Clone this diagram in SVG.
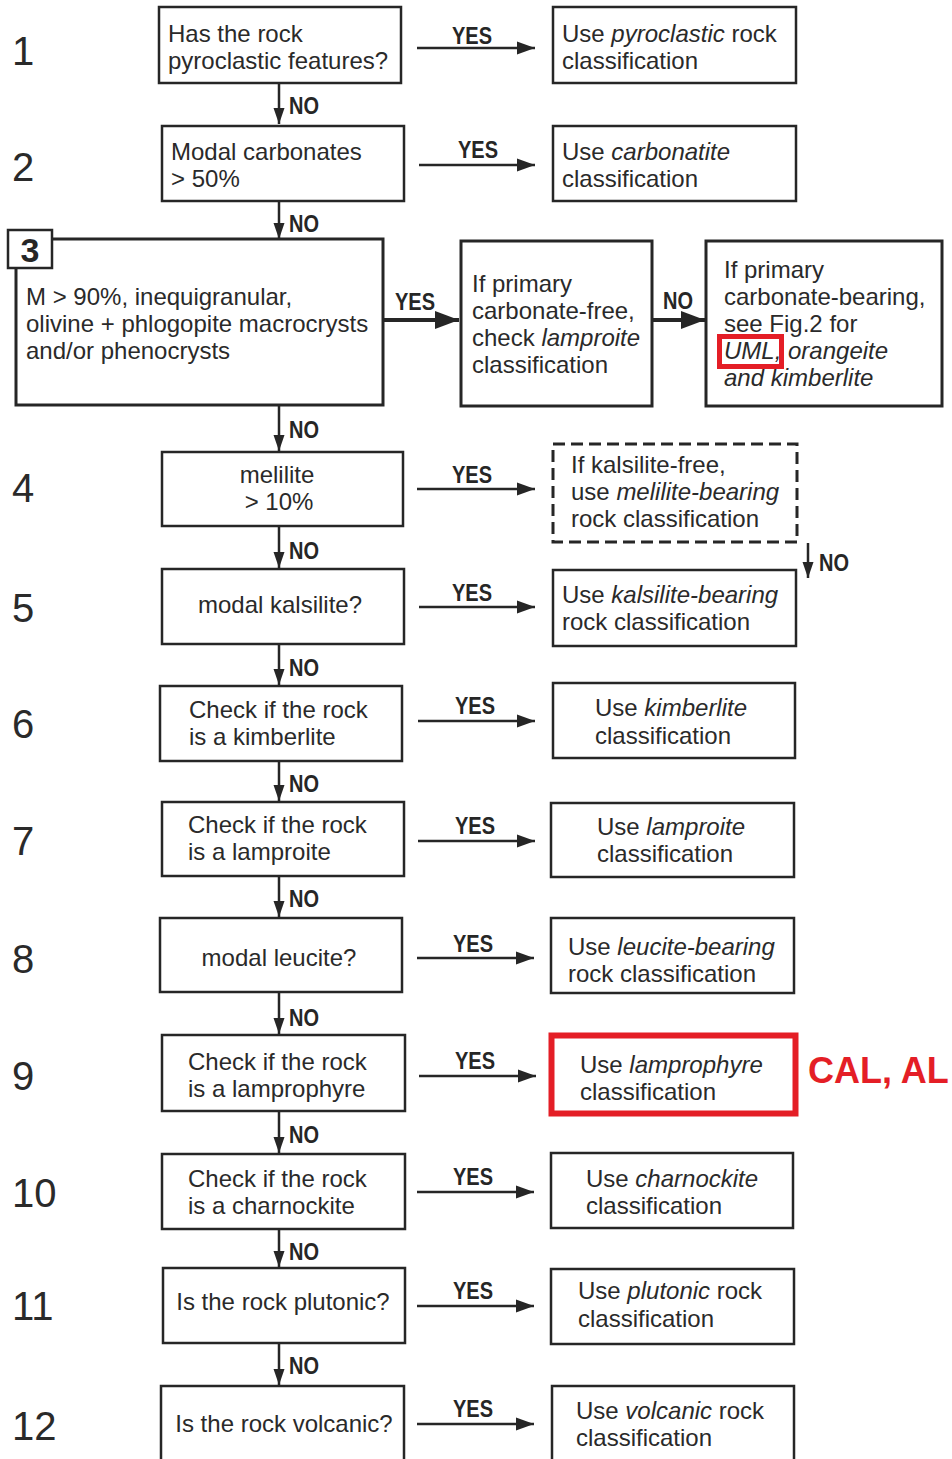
<svg xmlns="http://www.w3.org/2000/svg" width="952" height="1459" viewBox="0 0 952 1459">
<style>
.bx{fill:#fff;stroke:#262626;stroke-width:2.5}
.bx3{fill:#fff;stroke:#262626;stroke-width:3}
.dash{fill:#fff;stroke:#262626;stroke-width:3;stroke-dasharray:12 6}
.red{fill:none;stroke:#e41e26;stroke-width:6}
.t{font-family:"Liberation Sans",Arial,sans-serif;font-size:24px;fill:#2a2a2a}
.c{text-anchor:middle}
.i{font-style:italic}
.num{font-family:"Liberation Sans",Arial,sans-serif;font-size:40px;fill:#2a2a2a}
.lab{font-family:"Liberation Sans",Arial,sans-serif;font-size:23px;font-weight:bold;fill:#262626}
.ln{stroke:#262626;stroke-width:2.5;fill:none}
.lnb{stroke:#262626;stroke-width:4;fill:none}
</style>
<defs>
<marker id="ah" markerUnits="userSpaceOnUse" markerWidth="18" markerHeight="14" refX="18" refY="7" orient="auto"><path d="M0,0.5 L18,7 L0,13.5 Z" fill="#262626"/></marker>
<marker id="av" markerUnits="userSpaceOnUse" markerWidth="16" markerHeight="12" refX="16" refY="6" orient="auto"><path d="M0,0.5 L16,6 L0,11.5 Z" fill="#262626"/></marker>
<marker id="ab" markerUnits="userSpaceOnUse" markerWidth="24" markerHeight="20" refX="24" refY="10" orient="auto"><path d="M0,1 L24,10 L0,19 Z" fill="#262626"/></marker>
</defs>

<g id="numbers">
<text class="num" x="12" y="65">1</text>
<text class="num" x="12" y="181">2</text>
<text class="num" x="12" y="502">4</text>
<text class="num" x="12" y="622">5</text>
<text class="num" x="12" y="738">6</text>
<text class="num" x="12" y="855">7</text>
<text class="num" x="12" y="973">8</text>
<text class="num" x="12" y="1090">9</text>
<text class="num" x="12" y="1207">10</text>
<text class="num" x="12" y="1320">11</text>
<text class="num" x="12" y="1440">12</text>
</g>

<g id="connectors">
<line class="ln" x1="417" y1="48" x2="535" y2="48" marker-end="url(#ah)"/>
<line class="ln" x1="419" y1="165" x2="535" y2="165" marker-end="url(#ah)"/>
<line class="lnb" x1="383" y1="320" x2="459" y2="320" marker-end="url(#ab)"/>
<line class="lnb" x1="653" y1="320" x2="705" y2="320" marker-end="url(#ab)"/>
<line class="ln" x1="417" y1="489" x2="535" y2="489" marker-end="url(#ah)"/>
<line class="ln" x1="419" y1="607" x2="535" y2="607" marker-end="url(#ah)"/>
<line class="ln" x1="418" y1="721" x2="535" y2="721" marker-end="url(#ah)"/>
<line class="ln" x1="418" y1="841" x2="535" y2="841" marker-end="url(#ah)"/>
<line class="ln" x1="417" y1="958" x2="534" y2="958" marker-end="url(#ah)"/>
<line class="ln" x1="419" y1="1076" x2="536" y2="1076" marker-end="url(#ah)"/>
<line class="ln" x1="417" y1="1192" x2="534" y2="1192" marker-end="url(#ah)"/>
<line class="ln" x1="417" y1="1306" x2="534" y2="1306" marker-end="url(#ah)"/>
<line class="ln" x1="417" y1="1424" x2="534" y2="1424" marker-end="url(#ah)"/>

<line class="ln" x1="279" y1="84" x2="279" y2="124" marker-end="url(#av)"/>
<line class="ln" x1="279" y1="202" x2="279" y2="239" marker-end="url(#av)"/>
<line class="ln" x1="279" y1="406" x2="279" y2="451" marker-end="url(#av)"/>
<line class="ln" x1="279" y1="527" x2="279" y2="568" marker-end="url(#av)"/>
<line class="ln" x1="279" y1="645" x2="279" y2="685" marker-end="url(#av)"/>
<line class="ln" x1="279" y1="762" x2="279" y2="801" marker-end="url(#av)"/>
<line class="ln" x1="279" y1="877" x2="279" y2="917" marker-end="url(#av)"/>
<line class="ln" x1="279" y1="993" x2="279" y2="1034" marker-end="url(#av)"/>
<line class="ln" x1="279" y1="1112" x2="279" y2="1153" marker-end="url(#av)"/>
<line class="ln" x1="279" y1="1230" x2="279" y2="1267" marker-end="url(#av)"/>
<line class="ln" x1="279" y1="1344" x2="279" y2="1385" marker-end="url(#av)"/>
<line class="ln" x1="808" y1="543" x2="808" y2="578" marker-end="url(#av)"/>

<text class="lab" x="452" y="44" textLength="40" lengthAdjust="spacingAndGlyphs">YES</text>
<text class="lab" x="458" y="158" textLength="40" lengthAdjust="spacingAndGlyphs">YES</text>
<text class="lab" x="395" y="310" textLength="40" lengthAdjust="spacingAndGlyphs">YES</text>
<text class="lab" x="663" y="309" textLength="30" lengthAdjust="spacingAndGlyphs">NO</text>
<text class="lab" x="452" y="483" textLength="40" lengthAdjust="spacingAndGlyphs">YES</text>
<text class="lab" x="452" y="601" textLength="40" lengthAdjust="spacingAndGlyphs">YES</text>
<text class="lab" x="455" y="714" textLength="40" lengthAdjust="spacingAndGlyphs">YES</text>
<text class="lab" x="455" y="834" textLength="40" lengthAdjust="spacingAndGlyphs">YES</text>
<text class="lab" x="453" y="952" textLength="40" lengthAdjust="spacingAndGlyphs">YES</text>
<text class="lab" x="455" y="1069" textLength="40" lengthAdjust="spacingAndGlyphs">YES</text>
<text class="lab" x="453" y="1185" textLength="40" lengthAdjust="spacingAndGlyphs">YES</text>
<text class="lab" x="453" y="1299" textLength="40" lengthAdjust="spacingAndGlyphs">YES</text>
<text class="lab" x="453" y="1417" textLength="40" lengthAdjust="spacingAndGlyphs">YES</text>

<text class="lab" x="289" y="114" textLength="30" lengthAdjust="spacingAndGlyphs">NO</text>
<text class="lab" x="289" y="232" textLength="30" lengthAdjust="spacingAndGlyphs">NO</text>
<text class="lab" x="289" y="438" textLength="30" lengthAdjust="spacingAndGlyphs">NO</text>
<text class="lab" x="289" y="559" textLength="30" lengthAdjust="spacingAndGlyphs">NO</text>
<text class="lab" x="289" y="676" textLength="30" lengthAdjust="spacingAndGlyphs">NO</text>
<text class="lab" x="289" y="792" textLength="30" lengthAdjust="spacingAndGlyphs">NO</text>
<text class="lab" x="289" y="907" textLength="30" lengthAdjust="spacingAndGlyphs">NO</text>
<text class="lab" x="289" y="1026" textLength="30" lengthAdjust="spacingAndGlyphs">NO</text>
<text class="lab" x="289" y="1143" textLength="30" lengthAdjust="spacingAndGlyphs">NO</text>
<text class="lab" x="289" y="1260" textLength="30" lengthAdjust="spacingAndGlyphs">NO</text>
<text class="lab" x="289" y="1374" textLength="30" lengthAdjust="spacingAndGlyphs">NO</text>
<text class="lab" x="819" y="571" textLength="30" lengthAdjust="spacingAndGlyphs">NO</text>
</g>

<g id="q1"><rect class="bx" x="159" y="7" width="242" height="76"/>
<text class="t" x="168" y="42">Has the rock</text><text class="t" x="168" y="69">pyroclastic features?</text></g>
<g id="r1"><rect class="bx" x="553" y="7" width="243" height="76"/>
<text class="t" x="562" y="42">Use <tspan class="i">pyroclastic</tspan> rock</text><text class="t" x="562" y="69">classification</text></g>

<g id="q2"><rect class="bx" x="162" y="126" width="242" height="75"/>
<text class="t" x="171" y="160">Modal carbonates</text><text class="t" x="171" y="187">&gt; 50%</text></g>
<g id="r2"><rect class="bx" x="553" y="126" width="243" height="75"/>
<text class="t" x="562" y="160">Use <tspan class="i">carbonatite</tspan></text><text class="t" x="562" y="187">classification</text></g>

<g id="q3"><rect class="bx3" x="16" y="239" width="367" height="166"/>
<rect class="bx" x="8" y="230" width="44" height="38"/>
<text x="30" y="262" text-anchor="middle" style="font-family:'Liberation Sans',Arial,sans-serif;font-size:34px;font-weight:bold;fill:#262626">3</text>
<text class="t" x="26" y="305">M &gt; 90%, inequigranular,</text>
<text class="t" x="26" y="332">olivine + phlogopite macrocrysts</text>
<text class="t" x="26" y="359">and/or phenocrysts</text></g>
<g id="r3a"><rect class="bx3" x="461" y="241" width="191" height="165"/>
<text class="t" x="472" y="292">If primary</text><text class="t" x="472" y="319">carbonate-free,</text>
<text class="t" x="472" y="346">check <tspan class="i">lamproite</tspan></text><text class="t" x="472" y="373">classification</text></g>
<g id="r3b"><rect class="bx3" x="706" y="241" width="236" height="165"/>
<text class="t" x="724" y="278">If primary</text><text class="t" x="724" y="305">carbonate-bearing,</text>
<text class="t" x="724" y="332">see Fig.2 for</text>
<text class="t i" x="724" y="359">UML, orangeite</text><text class="t i" x="724" y="386">and kimberlite</text>
<rect class="red" x="719.5" y="336.5" width="62" height="30" style="stroke-width:5"/></g>

<g id="q4"><rect class="bx" x="162" y="452" width="241" height="74"/>
<text class="t c" x="277" y="483">melilite</text><text class="t c" x="279" y="510">&gt; 10%</text></g>
<g id="r4"><rect class="dash" x="553" y="444" width="244" height="98"/>
<text class="t" x="571" y="473">If kalsilite-free,</text>
<text class="t" x="571" y="500">use <tspan class="i">melilite-bearing</tspan></text>
<text class="t" x="571" y="527">rock classification</text></g>

<g id="q5"><rect class="bx" x="162" y="569" width="242" height="75"/>
<text class="t c" x="280" y="613">modal kalsilite?</text></g>
<g id="r5"><rect class="bx" x="553" y="570" width="243" height="76"/>
<text class="t" x="562" y="603">Use <tspan class="i">kalsilite-bearing</tspan></text><text class="t" x="562" y="630">rock classification</text></g>

<g id="q6"><rect class="bx" x="160" y="686" width="242" height="75"/>
<text class="t" x="189" y="718">Check if the rock</text><text class="t" x="189" y="745">is a kimberlite</text></g>
<g id="r6"><rect class="bx" x="553" y="683" width="242" height="75"/>
<text class="t" x="595" y="716">Use <tspan class="i">kimberlite</tspan></text><text class="t" x="595" y="744">classification</text></g>

<g id="q7"><rect class="bx" x="162" y="802" width="242" height="74"/>
<text class="t" x="188" y="833">Check if the rock</text><text class="t" x="188" y="860">is a lamproite</text></g>
<g id="r7"><rect class="bx" x="551" y="803" width="243" height="74"/>
<text class="t" x="597" y="835">Use <tspan class="i">lamproite</tspan></text><text class="t" x="597" y="862">classification</text></g>

<g id="q8"><rect class="bx" x="160" y="918" width="242" height="74"/>
<text class="t c" x="279" y="966">modal leucite?</text></g>
<g id="r8"><rect class="bx" x="551" y="918" width="243" height="75"/>
<text class="t" x="568" y="955">Use <tspan class="i">leucite-bearing</tspan></text><text class="t" x="568" y="982">rock classification</text></g>

<g id="q9"><rect class="bx" x="162" y="1035" width="243" height="76"/>
<text class="t" x="188" y="1070">Check if the rock</text><text class="t" x="188" y="1097">is a lamprophyre</text></g>
<g id="r9"><rect class="red" x="551.5" y="1035.5" width="244" height="78"/>
<text class="t" x="580" y="1073">Use <tspan class="i">lamprophyre</tspan></text><text class="t" x="580" y="1100">classification</text>
<text x="808" y="1083" style="font-family:'Liberation Sans',Arial,sans-serif;font-size:36px;font-weight:bold;fill:#e41e26">CAL, AL</text></g>

<g id="q10"><rect class="bx" x="162" y="1154" width="243" height="75"/>
<text class="t" x="188" y="1187">Check if the rock</text><text class="t" x="188" y="1214">is a charnockite</text></g>
<g id="r10"><rect class="bx" x="551" y="1153" width="242" height="75"/>
<text class="t" x="586" y="1187">Use <tspan class="i">charnockite</tspan></text><text class="t" x="586" y="1214">classification</text></g>

<g id="q11"><rect class="bx" x="163" y="1268" width="242" height="75"/>
<text class="t c" x="283" y="1310">Is the rock plutonic?</text></g>
<g id="r11"><rect class="bx" x="551" y="1269" width="243" height="75"/>
<text class="t" x="578" y="1299">Use <tspan class="i">plutonic</tspan> rock</text><text class="t" x="578" y="1327">classification</text></g>

<g id="q12"><rect class="bx" x="161" y="1386" width="243" height="90"/>
<text class="t c" x="284" y="1432">Is the rock volcanic?</text></g>
<g id="r12"><rect class="bx" x="552" y="1386" width="242" height="90"/>
<text class="t" x="576" y="1419">Use <tspan class="i">volcanic</tspan> rock</text><text class="t" x="576" y="1446">classification</text></g>
</svg>
